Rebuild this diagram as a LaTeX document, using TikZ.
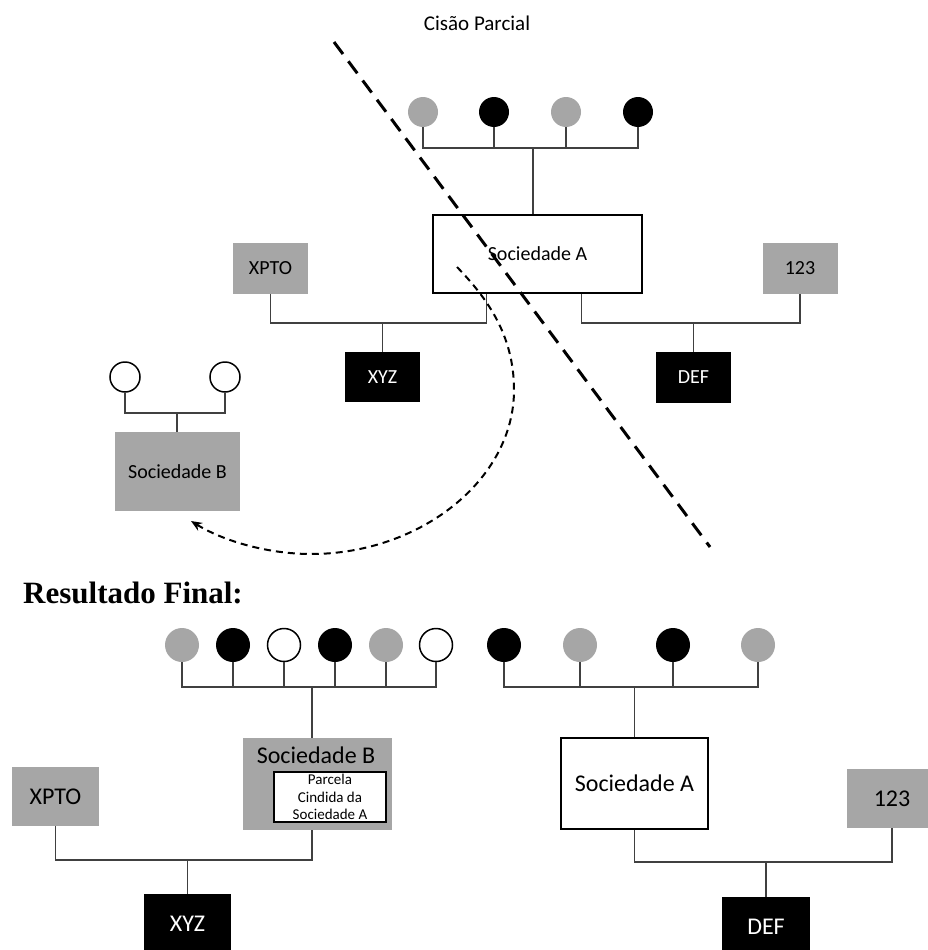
\documentclass[tikz,border=0pt]{standalone}
\usepackage{fontspec}
\setmainfont{Carlito}
\newfontfamily\titleserif{Liberation Serif}
\usetikzlibrary{arrows.meta}
\definecolor{gfill}{HTML}{A6A6A6}
\definecolor{lnc}{HTML}{404040}
\begin{document}
\begin{tikzpicture}[x=1pt,y=-1pt,
  box/.style={rectangle, inner sep=0pt, align=center},
  gbox/.style={box, fill=gfill},
  bbox/.style={box, fill=black, text=white},
  wbox/.style={box, draw=black, line width=1.6pt, fill=white},
  dot/.style={circle, inner sep=0pt, minimum size=#1},
  gdot/.style={dot=#1, fill=gfill},
  kdot/.style={dot=#1, fill=black},
  odot/.style={dot=#1, draw=black, line width=1.5pt, fill=white},
  link/.style={draw=lnc, line width=1.2pt},
  fsmall/.style={font=\fontsize{20pt}{24pt}\selectfont},
  fbig/.style={font=\fontsize{24pt}{28pt}\selectfont}]
\fill[white] (0,0) rectangle (928,950);
\useasboundingbox (0,0) rectangle (928,950);

% ---------- Title
\node[fsmall, font=\fontsize{21pt}{25pt}\selectfont] (title) at (477,23) {Cisão Parcial};

% ---------- Top section
\node[gdot=30pt] (c1) at (423,112) {};
\node[kdot=30pt] (c2) at (494,112) {};
\node[gdot=30pt] (c3) at (566,112) {};
\node[kdot=30pt] (c4) at (638,112) {};
\coordinate (tb) at (533,148);

\node[wbox, minimum width=209pt, minimum height=78pt, fsmall] (socA) at (537.5,254) {Sociedade A};
\node[gbox, minimum width=75pt, minimum height=51pt, fsmall] (xpto) at (270.5,268.5) {XPTO};
\node[gbox, minimum width=75pt, minimum height=51pt, fsmall] (p123) at (800,268.5) {123};
\node[bbox, minimum width=75pt, minimum height=50pt, fsmall] (xyz) at (382.5,377) {XYZ};
\node[bbox, minimum width=75pt, minimum height=51pt, fsmall] (def) at (693.5,377.5) {DEF};

\draw[link] (c1.south) |- (c4.south |- tb) -- (c4.south);
\draw[link] (c2.south) -- (c2.south |- tb);
\draw[link] (c3.south) -- (c3.south |- tb);
\draw[link] (tb) -- (tb |- socA.north);

\coordinate (lj) at (382.5,323);
\coordinate (rj) at (693.5,323);
\draw[link] (xpto.south) |- (lj) -| ([xshift=54pt]socA.south west);
\draw[link] (lj) -- (xyz.north);
\draw[link] ([xshift=149pt]socA.south west) |- (rj) -| (p123.south);
\draw[link] (rj) -- (def.north);

% Sociedade B (top)
\node[odot=30pt] (o1) at (125,377) {};
\node[odot=30pt] (o2) at (225,377) {};
\node[gbox, minimum width=125pt, minimum height=79pt, fsmall] (socB) at (177.5,471.5) {Sociedade B};
\coordinate (ob) at (177,413);
\draw[link] (o1.south) |- (ob) -| (o2.south);
\draw[link] (ob) -- (ob |- socB.north);

% dashed lines
\coordinate (d1) at (334,42);
\coordinate (d2) at (710,547);
\draw[line width=3pt, dash pattern=on 15pt off 9pt] (d1) -- (d2);

\coordinate (cs) at (457,267);
\coordinate (ce) at (191,521);
\draw[line width=2pt, dash pattern=on 7pt off 5pt, -{Stealth[length=11pt,width=9pt]}]
  (cs) .. controls (487,298) and (514,335) .. (514,390)
       .. controls (514,480) and (420,554) .. (311,554)
       .. controls (270,554) and (225,542) .. (ce);

% ---------- Resultado Final
\node[anchor=base west, inner sep=0pt, font=\titleserif\bfseries\fontsize{31pt}{36pt}\selectfont] (res) at (23,603) {Resultado Final:};

\node[gdot=34pt] (b1) at (182,645) {};
\node[kdot=34pt] (b2) at (233,645) {};
\node[odot=33pt] (b3) at (284,645) {};
\node[kdot=34pt] (b4) at (335,645) {};
\node[gdot=34pt] (b5) at (386,645) {};
\node[odot=33pt] (b6) at (436,645) {};
\coordinate (lb) at (312,687);

\node[kdot=34pt] (r1) at (504,645) {};
\node[gdot=34pt] (r2) at (580,645) {};
\node[kdot=34pt] (r3) at (673,645) {};
\node[gdot=34pt] (r4) at (758,645) {};
\coordinate (rb) at (634.5,687);

\node[gbox, minimum width=149pt, minimum height=92pt] (socB2) at (317.5,784) {};
\node[fbig, inner sep=0pt] (socB2t) at (316,755) {Sociedade B};
\node[wbox, line width=1.3pt, minimum width=112pt, minimum height=50pt, font=\fontsize{15pt}{17.5pt}\selectfont] (parc) at (330,797) {Parcela\\Cindida da\\Sociedade A};

\node[wbox, minimum width=147pt, minimum height=91pt, fbig] (socA2) at (634.5,783.5) {Sociedade A};
\node[gbox, minimum width=87pt, minimum height=59pt, fbig] (xpto2) at (55.5,796.5) {XPTO};
\node[gbox, minimum width=90pt, minimum height=59pt, fbig] (p1232) at (892,798.5) {123};
\node[bbox, minimum width=87pt, minimum height=59pt, fbig] (xyz2) at (187.5,923.5) {XYZ};
\node[bbox, minimum width=88pt, minimum height=59pt, fbig] (def2) at (766,926.5) {DEF};

\draw[link] (b1.south) |- (b6.south |- lb) -- (b6.south);
\foreach \n in {b2,b3,b4,b5} \draw[link] (\n.south) -- (\n.south |- lb);
\draw[link] (lb) -- (lb |- socB2.north);

\draw[link] (r1.south) |- (r4.south |- rb) -- (r4.south);
\foreach \n in {r2,r3} \draw[link] (\n.south) -- (\n.south |- rb);
\draw[link] (rb) -- (socA2.north);

\coordinate (lj2) at (187.5,860);
\coordinate (rj2) at (766,862);
\draw[link] (xpto2.south) |- (lj2) -| (socB2.south -| lb);
\draw[link] (lj2) -- (xyz2.north);
\draw[link] (socA2.south) |- (rj2) -| (p1232.south);
\draw[link] (rj2) -- (def2.north);
\end{tikzpicture}
\end{document}
